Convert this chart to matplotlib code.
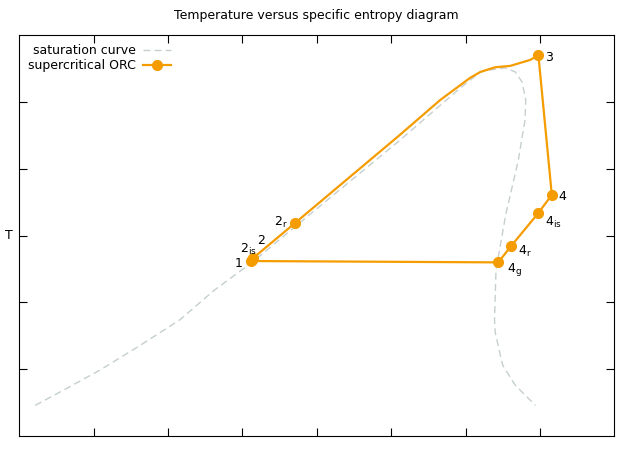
import matplotlib
matplotlib.use("Agg")
import matplotlib.pyplot as plt

# saturation curve (s, T)
sat_s = [0.215, 0.55, 1.09, 1.63, 2.16, 2.63, 3.12, 3.78, 5.12, 5.93, 6.20, 6.33, 6.53, 6.67, 6.76, 6.81, 6.80, 6.71, 6.54, 6.41, 6.39, 6.40, 6.47, 6.50, 6.67, 6.94]
sat_T = [0.46, 0.66, 0.99, 1.36, 1.74, 2.19, 2.59, 3.20, 4.43, 5.21, 5.45, 5.48, 5.51, 5.45, 5.30, 5.03, 4.73, 4.13, 3.31, 2.49, 1.74, 1.55, 1.20, 1.06, 0.76, 0.46]

# ORC cycle path
orc_s = [3.12, 3.13, 3.14, 3.71, 5.12, 5.66, 6.06, 6.20, 6.40, 6.60, 6.87, 6.98, 7.16, 6.98, 6.61, 6.44, 3.12]
orc_T = [2.62, 2.64, 2.66, 3.19, 4.51, 5.03, 5.36, 5.45, 5.52, 5.54, 5.63, 5.70, 3.61, 3.34, 2.84, 2.60, 2.62]

# state points
pt_names = ["1", r"$2_{\rm is}$", "2", r"$2_{\rm r}$", "3", "4", r"$4_{\rm is}$", r"$4_{\rm r}$", r"$4_{\rm g}$"]
pt_s = [3.12, 3.13, 3.14, 3.71, 6.98, 7.16, 6.98, 6.61, 6.44]
pt_T = [2.62, 2.64, 2.66, 3.19, 5.70, 3.61, 3.34, 2.84, 2.60]
offs = [(-12, -4), (-9, 5), (3, 10), (-15, -2), (5, -4), (5, -4), (5, -9), (5, -6), (6, -7)]

orange = "#f59c00"
fig, ax = plt.subplots(figsize=(6.18, 4.51), dpi=100)
fig.subplots_adjust(left=0.031, right=0.994, top=0.922, bottom=0.033)

ax.plot(sat_s, sat_T, ls=(0, (5, 3)), color="#c5cfcf", lw=1, label="saturation curve")
ax.plot(orc_s, orc_T, color=orange, lw=1.6)
ax.plot(pt_s, pt_T, "o", color=orange, ms=7, ls="none")
ax.plot([], [], "-o", color=orange, lw=1.6, ms=7, label="supercritical ORC")
for n, s, t, o in zip(pt_names, pt_s, pt_T, offs):
    ax.annotate(n, (s, t), xytext=o, textcoords="offset points", fontsize=9)

ax.set_xlim(0, 8)
ax.set_ylim(0, 6)
ax.set_xticks(range(1, 8))
ax.set_yticks(range(1, 6))
ax.set_xticklabels([])
ax.set_yticklabels([])
ax.tick_params(direction="in", top=True, right=True, length=6)
ax.set_ylabel("T", rotation=0, fontsize=9, labelpad=4, va="center")
ax.set_title("Temperature versus specific entropy diagram", fontsize=9, pad=12)
ax.legend(loc="upper left", frameon=False, markerfirst=False, fontsize=9,
          handlelength=2.2, borderaxespad=0.3, handletextpad=0.6, labelspacing=0.2)
fig.savefig("out.png")
